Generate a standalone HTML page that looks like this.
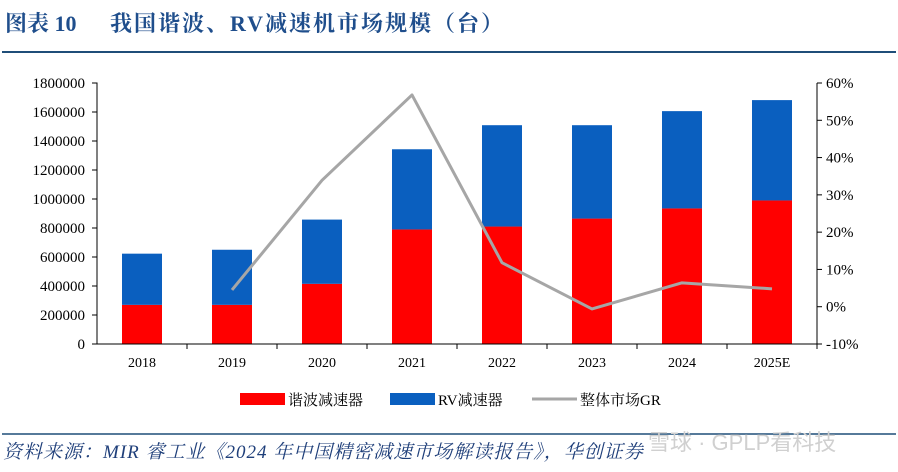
<!DOCTYPE html>
<html><head><meta charset="utf-8"><style>
body{margin:0;background:#fff;width:898px;height:467px;overflow:hidden;font-family:"Liberation Serif","Noto Serif CJK SC",serif;}
</style></head><body>
<svg width="898" height="467" viewBox="0 0 898 467" xmlns="http://www.w3.org/2000/svg">
<text x="5" y="31" font-size="22" font-weight="bold" fill="#1f4e8c" font-family="Liberation Serif,Noto Serif CJK SC,serif">图表 10</text>
<text x="110" y="31" font-size="22" font-weight="bold" fill="#1f4e8c" letter-spacing="2" font-family="Liberation Serif,Noto Serif CJK SC,serif">我国谐波、RV减速机市场规模（台）</text>
<line x1="2" y1="52" x2="896" y2="52" stroke="#1f4e79" stroke-width="2"/>
<g id="plot"></g>
<g font-size="15" font-family="Liberation Serif,Noto Serif CJK SC,serif">
<rect x="240" y="393" width="45" height="12" fill="#ff0000"/>
<text x="288" y="405">谐波减速器</text>
<rect x="390" y="393" width="45" height="12" fill="#0a5fbf"/>
<text x="438" y="405">RV减速器</text>
<line x1="532" y1="399" x2="577" y2="399" stroke="#a6a6a6" stroke-width="3"/>
<text x="580" y="405">整体市场GR</text>
</g>
<line x1="2" y1="434" x2="896" y2="434" stroke="#1f4e79" stroke-width="1.5"/>
<text x="3" y="458" font-size="19" font-style="italic" fill="#1f3f7a" letter-spacing="1">资料来源：MIR 睿工业《2024 年中国精密减速市场解读报告》，华创证券</text>
<text x="648" y="450" font-size="22" fill="#d0d0d0" font-family="Liberation Sans,Noto Sans CJK SC,sans-serif">雪球 · GPLP看科技</text>
</svg>
<script>
const categories=["2018","2019","2020","2021","2022","2023","2024","2025E"];
const harmonic=[270000,270000,415000,790000,810000,865000,935000,990000];
const totals=[623000,650000,858000,1343000,1509000,1509000,1606000,1682000];
const growth=[null,4.5,33.9,56.8,11.8,-0.6,6.4,4.8];
const leftTicks=[0,200000,400000,600000,800000,1000000,1200000,1400000,1600000,1800000];
const rightTicks=[-10,0,10,20,30,40,50,60];
const NS="http://www.w3.org/2000/svg";
const g=document.getElementById('plot');
const X0=97,X1=817,Y0=344,Y1=83,band=(X1-X0)/categories.length,bw=40;
const yL=v=>Y0-(v/1800000)*(Y0-Y1);
const yR=v=>Y0-((v+10)/70)*(Y0-Y1);
const xC=i=>X0+band*(i+0.5);
function mk(t,a){const e=document.createElementNS(NS,t);for(const k in a)e.setAttribute(k,a[k]);g.appendChild(e);return e;}
categories.forEach((c,i)=>{
 const r=mk('rect',{x:xC(i)-bw/2,y:yL(harmonic[i]),width:bw,height:Y0-yL(harmonic[i]),fill:'#ff0000'});
 
 
 const b=mk('rect',{x:xC(i)-bw/2,y:yL(totals[i]),width:bw,height:yL(harmonic[i])-yL(totals[i]),fill:'#0a5fbf'});
 
 
 const t=mk('text',{x:xC(i),y:Y0+23,'text-anchor':'middle','font-size':14});
 t.textContent=c;
 
 
 const tk=mk('line',{x1:X0+band*(i+1),x2:X0+band*(i+1),y1:Y0,y2:Y0+5,stroke:'#000'});
 
 
});
const ax=mk('path',{d:`M${X0-5},${Y1}H${X0}V${Y0}H${X1}`,stroke:'#000',fill:'none'});


const ra=mk('line',{x1:X1,x2:X1,y1:Y1,y2:Y0,stroke:'#000'});


leftTicks.forEach(v=>{
 const l=mk('line',{x1:X0-5,x2:X0,y1:yL(v),y2:yL(v),stroke:'#000'});
 
 
 const t=mk('text',{x:X0-12,y:yL(v)+5,'text-anchor':'end','font-size':15});
 t.textContent=v;
 
 
});
rightTicks.forEach(v=>{
 const l=mk('line',{x1:X1,x2:X1+5,y1:yR(v),y2:yR(v),stroke:'#000'});
 
 
 const t=mk('text',{x:X1+9,y:yR(v)+5,'font-size':15});
 t.textContent=v+'%';
 
 
});
let d='';growth.forEach((v,i)=>{if(v===null)return;d+=(d?'L':'M')+xC(i)+','+yR(v);});
const ln=mk('path',{d:d,stroke:'#a6a6a6','stroke-width':3,fill:'none','stroke-linejoin':'round'});


</script>
</body></html>
